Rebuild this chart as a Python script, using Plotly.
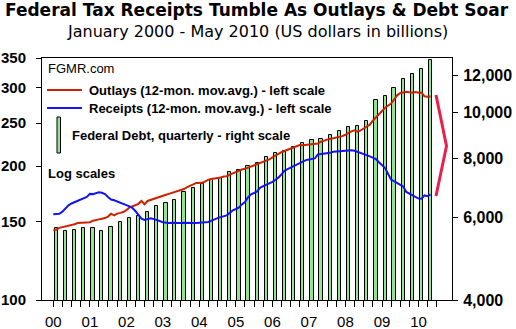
import math
import pandas as pd
import plotly.graph_objects as go

# ---- data (US$ billions) ----
# 12-month moving averages, monthly Jan 2000 .. May 2010
months = pd.date_range("2000-01-01", "2010-05-01", freq="MS")
outlays = [
    143.4, 144.0, 145.3, 145.8, 146.5, 146.9, 147.4, 148.0, 148.9, 149.0, 149.0, 149.1,
    149.6, 150.8, 151.5, 151.8, 152.3, 152.8, 154.0, 156.3, 155.0, 156.4, 157.0, 157.7,
    159.2, 161.5, 162.3, 163.2, 164.5, 167.0, 164.2, 167.0, 168.0, 168.9, 169.6, 170.4,
    171.6, 172.4, 173.2, 174.0, 174.8, 175.9, 176.8, 177.6, 179.3, 180.3, 181.9, 183.3,
    183.1, 183.4, 184.9, 186.5, 187.1, 187.4, 188.1, 188.6, 189.5, 189.8, 191.3, 192.6,
    194.1, 195.3, 196.5, 197.2, 198.4, 199.6, 201.0, 202.3, 203.4, 204.6, 205.8, 207.0,
    209.3, 211.5, 213.0, 214.9, 216.3, 217.6, 219.4, 221.0, 222.4, 223.0, 222.8, 223.2,
    223.0, 223.4, 224.0, 224.8, 226.9, 228.5, 229.4, 230.2, 230.9, 231.6, 232.6, 233.6,
    235.2, 237.8, 239.4, 240.6, 238.9, 240.5, 243.0, 244.6, 247.8, 253.0, 257.5, 262.0,
    266.2, 270.6, 273.4, 276.5, 282.0, 288.5, 291.6, 293.0, 293.8, 293.0, 292.4, 293.5,
    292.5, 292.8, 287.0, 286.5, 286.8,
]
receipts = [
    155.8, 155.8, 156.2, 158.0, 161.0, 163.2, 164.8, 166.0, 167.3, 168.6, 169.5, 170.5,
    173.2, 173.0, 173.8, 174.6, 174.2, 173.0, 170.5, 168.2, 167.6, 166.4, 165.5, 164.5,
    163.4, 162.3, 161.2, 158.5, 155.6, 152.4, 151.4, 151.8, 152.6, 152.0, 151.4, 150.5,
    149.5, 149.0, 149.0, 149.1, 148.9, 149.0, 149.0, 149.1, 149.0, 148.9, 149.0, 149.0,
    149.2, 149.4, 149.6, 149.8, 150.8, 152.0, 152.8, 153.6, 154.4, 155.0, 157.0, 159.1,
    160.2, 161.4, 164.0, 166.1, 170.0, 172.8, 174.0, 175.4, 179.0, 180.4, 181.2, 182.8,
    184.3, 186.4, 188.4, 191.6, 195.2, 197.0, 198.6, 200.0, 201.5, 202.8, 204.4, 206.3,
    206.9, 207.6, 208.1, 212.4, 212.8, 212.6, 213.1, 214.2, 215.3, 215.8, 216.1, 216.4,
    216.6, 216.9, 217.2, 216.5, 215.5, 214.0, 212.8, 211.7, 210.3, 209.0, 207.5, 204.0,
    201.3, 198.0, 192.5, 186.5, 185.0, 183.3, 181.0, 179.9, 175.0, 173.6, 172.2, 170.2,
    169.1, 169.0, 171.8, 171.2, 172.7,
]

# Federal debt, quarterly, Q1 2000 .. Q2 2010 (plotted mid-quarter)
quarters = pd.date_range("2000-02-01", "2010-05-01", freq="3MS")
debt = [
    5694, 5620, 5648, 5692, 5694, 5620, 5731, 5873, 5982, 6050,
    6170, 6325, 6428, 6536, 6780, 6920, 7072, 7188, 7270, 7489,
    7577, 7701, 7828, 8063, 8223, 8305, 8450, 8613, 8757, 8785,
    8962, 9151, 9319, 9380, 9612, 10660, 10873, 11296, 11805, 12115,
    12401, 12981,
]

# axis ticks
quarter_ticks = pd.date_range("2000-01-01", "2010-07-01", freq="QS")
year_labels = [f"{d.year % 100:02d}" if d.month == 1 else "" for d in quarter_ticks]
left_ticks = [100, 150, 200, 250, 300, 350]
right_ticks = [4000, 6000, 8000, 10000, 12000]
right_labels = ["4,000", "6,000", "8,000", "10,000", "12,000"]

# ---- styling ----
FONT = "Liberation Sans, Arial, sans-serif"
RED = "#CC2200"
BLUE = "#1414F0"
GREEN = "#8EE68E"
ARROW = "#E8204A"

W, H = 516, 329
L, R, T, B = 42, 452, 58, 300


def px(x):
    return (x - L) / (R - L)


def py(y):
    return (B - y) / (B - T)


fig = go.Figure()

fig.add_trace(go.Bar(
    x=quarters, y=debt, yaxis="y",
    width=32 * 24 * 3600 * 1000,
    marker=dict(color=GREEN, line=dict(color="black", width=1)),
    showlegend=False,
))
fig.add_trace(go.Scatter(
    x=months, y=outlays, yaxis="y2", mode="lines",
    line=dict(color=RED, width=2), showlegend=False,
))
fig.add_trace(go.Scatter(
    x=months, y=receipts, yaxis="y2", mode="lines",
    line=dict(color=BLUE, width=2), showlegend=False,
))

annotations = [
    dict(text="<b>Federal Tax Receipts Tumble As Outlays & Debt Soar</b>",
         x=px(257), y=py(10), xanchor="center", yanchor="middle",
         font=dict(family="DejaVu Sans", size=17, color="black")),
    dict(text="January 2000 - May 2010 (US dollars in billions)",
         x=px(257), y=py(32), xanchor="center", yanchor="middle",
         font=dict(family="DejaVu Sans", size=16, color="black")),
    dict(text="FGMR.com", x=px(46), y=py(68), xanchor="left", yanchor="middle",
         font=dict(family=FONT, size=13, color="black")),
    dict(text="<b>Outlays (12-mon. mov.avg.) - left scale</b>", x=px(87), y=py(90),
         xanchor="left", yanchor="middle", font=dict(family=FONT, size=13, color="black")),
    dict(text="<b>Receipts (12-mon. mov.avg.) - left scale</b>", x=px(87), y=py(108),
         xanchor="left", yanchor="middle", font=dict(family=FONT, size=13, color="black")),
    dict(text="<b>Federal Debt, quarterly - right scale</b>", x=px(70), y=py(135),
         xanchor="left", yanchor="middle", font=dict(family=FONT, size=13, color="black")),
    dict(text="<b>Log scales</b>", x=px(46), y=py(173), xanchor="left", yanchor="middle",
         font=dict(family=FONT, size=13, color="black")),
]
for a in annotations:
    a.update(xref="paper", yref="paper", showarrow=False)

shapes = [
    dict(type="line", x0=px(47), x1=px(82), y0=py(90), y1=py(90),
         line=dict(color=RED, width=2)),
    dict(type="line", x0=px(47), x1=px(82), y0=py(108), y1=py(108),
         line=dict(color=BLUE, width=2)),
    dict(type="rect", x0=px(57), x1=px(60.5), y0=py(153), y1=py(117),
         fillcolor=GREEN, line=dict(color="black", width=1)),
    dict(type="path",
         path=f"M {px(436)},{py(95)} L {px(446.5)},{py(146)} L {px(436)},{py(196)}",
         line=dict(color=ARROW, width=3)),
]
for s in shapes:
    s.update(xref="paper", yref="paper")

fig.update_layout(
    width=W, height=H,
    margin=dict(l=L, r=W - R, t=T, b=H - B, pad=0, autoexpand=False),
    paper_bgcolor="white", plot_bgcolor="white",
    bargap=0,
    annotations=annotations,
    shapes=shapes,
    xaxis=dict(
        type="date", range=["1999-09-10", "2010-12-02"], automargin=False,
        tickmode="array", tickvals=quarter_ticks, ticktext=year_labels,
        ticks="outside", ticklen=6, tickcolor="black", tickwidth=1,
        ticklabelstandoff=2,
        showline=True, linecolor="black", linewidth=1, mirror=True,
        showgrid=False, zeroline=False,
        tickfont=dict(family=FONT, size=15, color="black"),
    ),
    yaxis=dict(
        type="log", side="right", automargin=False,
        range=[math.log10(4000), math.log10(13084)],
        tickmode="array", tickvals=right_ticks, ticktext=right_labels,
        ticks="outside", ticklen=5, tickcolor="black",
        ticklabelstandoff=2,
        showline=True, linecolor="black", linewidth=1,
        showgrid=False, zeroline=False,
        tickfont=dict(family=FONT, size=16, color="black", weight="bold"),
    ),
    yaxis2=dict(
        type="log", side="left", overlaying="y", automargin=False,
        range=[2, math.log10(350)],
        tickmode="array", tickvals=left_ticks, ticktext=[str(v) for v in left_ticks],
        ticks="outside", ticklen=5, tickcolor="black",
        ticklabelstandoff=7,
        showline=True, linecolor="black", linewidth=1,
        showgrid=False, zeroline=False,
        tickfont=dict(family=FONT, size=15, color="black", weight="bold"),
    ),
)

fig.write_html("out.html")
